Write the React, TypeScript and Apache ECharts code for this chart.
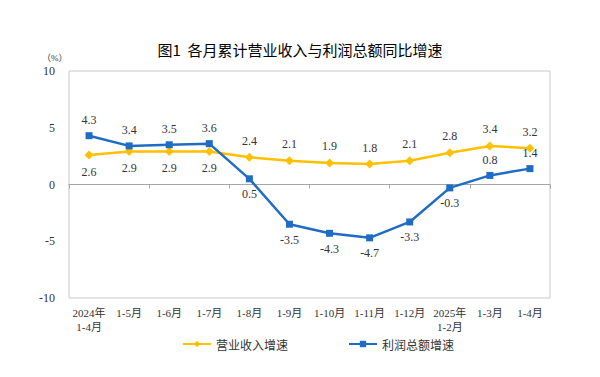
import React, { useEffect, useRef } from "react";
import * as echarts from "echarts";

const categories = ["2024年\n1-4月", "1-5月", "1-6月", "1-7月", "1-8月", "1-9月", "1-10月", "1-11月", "1-12月", "2025年\n1-2月", "1-3月", "1-4月"];
const revenueGrowth = [2.6, 2.9, 2.9, 2.9, 2.4, 2.1, 1.9, 1.8, 2.1, 2.8, 3.4, 3.2];
const profitGrowth = [4.3, 3.4, 3.5, 3.6, 0.5, -3.5, -4.3, -4.7, -3.3, -0.3, 0.8, 1.4];
const revenueLabelPos = ["bottom", "bottom", "bottom", "bottom", "top", "top", "top", "top", "top", "top", "top", "top"];
const profitLabelPos = ["top", "top", "top", "top", "bottom", "bottom", "bottom", "bottom", "bottom", "bottom", "top", "top"];
const seriesNames = ["营业收入增速", "利润总额增速"];
const titleText = "图1  各月累计营业收入与利润总额同比增速";

const SERIF = "'Times New Roman', 'Liberation Serif', 'Noto Sans CJK SC', serif";
const SANS = "'Noto Sans CJK SC', sans-serif";

export default function App() {
  const ref = useRef<HTMLDivElement>(null);
  useEffect(() => {
    const chart = echarts.init(ref.current!, undefined, { renderer: "svg" });
    const labelStyle = { show: true, fontFamily: SERIF, fontSize: 12, color: "#333", distance: 6 };
    chart.setOption({
      animation: false,
      backgroundColor: "#fff",
      title: {
        text: titleText,
        left: "center",
        top: 37,
        textStyle: { fontFamily: SANS, fontSize: 15, fontWeight: "normal", color: "#000" },
      },
      graphic: [
        { type: "text", left: 42, top: 53, style: { text: "（%）", fontSize: 9, fontFamily: SERIF, fill: "#333" } },
      ],
      legend: {
        bottom: 22,
        left: 177,
        itemGap: 60,
        itemWidth: 28,
        itemHeight: 8,
        textStyle: { fontFamily: SANS, fontSize: 12, color: "#333" },
        data: seriesNames,
      },
      grid: { left: 69, right: 50, top: 71, bottom: 79, show: true, borderColor: "#c8c8c8", borderWidth: 1 },
      xAxis: [
        {
          type: "category",
          data: categories,
          boundaryGap: true,
          axisLine: { show: false, onZero: false },
          axisTick: { show: false },
          axisLabel: { fontFamily: SERIF, fontSize: 11, color: "#333", margin: 8, lineHeight: 14, interval: 0 },
        },
        {
          type: "category",
          data: categories,
          boundaryGap: true,
          axisLine: { show: true, onZero: true, lineStyle: { color: "#a6a6a6" } },
          axisTick: { show: true, inside: true, length: 4, lineStyle: { color: "#a6a6a6" } },
          axisLabel: { show: false },
        },
      ],
      yAxis: {
        type: "value",
        min: -10,
        max: 10,
        interval: 5,
        axisLine: { show: false },
        axisTick: { show: false },
        splitLine: { show: false },
        axisLabel: { fontFamily: SERIF, fontSize: 12, color: "#333", margin: 14 },
      },
      series: [
        {
          name: seriesNames[0],
          type: "line",
          xAxisIndex: 0,
          data: revenueGrowth.map((v, i) => ({ value: v, label: { position: revenueLabelPos[i] } })),
          symbol: "diamond",
          symbolSize: 9,
          color: "#FFC000",
          lineStyle: { width: 2.5, color: "#FFC000" },
          itemStyle: { color: "#FFC000" },
          label: labelStyle,
          z: 3,
        },
        {
          name: seriesNames[1],
          type: "line",
          xAxisIndex: 0,
          data: profitGrowth.map((v, i) => ({ value: v, label: { position: profitLabelPos[i] } })),
          symbol: "rect",
          symbolSize: 7,
          color: "#1F6CC4",
          lineStyle: { width: 2.5, color: "#1F6CC4" },
          itemStyle: { color: "#1F6CC4" },
          label: labelStyle,
          z: 4,
        },
      ],
    });
    return () => chart.dispose();
  }, []);
  return <div ref={ref} style={{ width: 600, height: 377, position: "absolute", left: 0, top: 0 }} />;
}
